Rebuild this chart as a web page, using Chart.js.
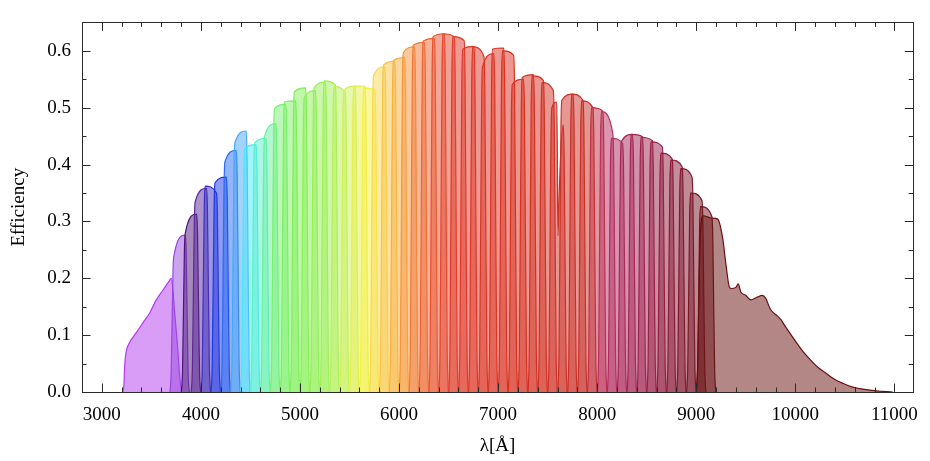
<!DOCTYPE html>
<html>
<head>
<meta charset="utf-8">
<script src="https://cdn.jsdelivr.net/npm/chart.js@4"></script>
<style>
html, body { margin: 0; padding: 0; background: #fff; }
#wrap { width: 930px; height: 461px; }
</style>
</head>
<body>
<div id="wrap"><canvas id="filterChart" width="930" height="461"></canvas></div>
<script>
// axis ticks
const xTickValues = [3000, 4000, 5000, 6000, 7000, 8000, 9000, 10000, 11000];
const yTickValues = [0, 0.1, 0.2, 0.3, 0.4, 0.5, 0.6];

// narrow band filters: name, central wavelength, efficiency at blue / red side of the top
const filterNames = ['J0378','J0390','J0400','J0410','J0420','J0430','J0440','J0450','J0460','J0470',
  'J0480','J0490','J0500','J0510','J0520','J0530','J0540','J0550','J0560','J0570',
  'J0580','J0590','J0600','J0610','J0620','J0630','J0640','J0650','J0660','J0670',
  'J0680','J0690','J0700','J0710','J0720','J0730','J0740','J0750','J0760','J0770',
  'J0780','J0790','J0800','J0810','J0820','J0830','J0840','J0850','J0860','J0870',
  'J0880','J0890','J0900','J0910'];
const filterCenters = [3785, 3900, 4000, 4100, 4200, 4300, 4400, 4500, 4600, 4700,
  4800, 4900, 5000, 5100, 5200, 5300, 5400, 5500, 5600, 5700,
  5800, 5900, 6000, 6100, 6200, 6300, 6400, 6500, 6600, 6700,
  6800, 6900, 7000, 7100, 7200, 7300, 7400, 7500, 7600, 7700,
  7800, 7900, 8000, 8100, 8200, 8300, 8400, 8500, 8600, 8700,
  8800, 8900, 9000, 9100];
const topBlue = [0.240, 0.280, 0.335, 0.362, 0.368, 0.405, 0.438, 0.428, 0.438, 0.450,
  0.498, 0.510, 0.528, 0.518, 0.535, 0.547, 0.537, 0.530, 0.538, 0.535,
  0.556, 0.575, 0.583, 0.597, 0.610, 0.617, 0.625, 0.630, 0.625, 0.603,
  0.607, 0.572, 0.603, 0.600, 0.541, 0.553, 0.556, 0.544, 0.500, 0.513,
  0.524, 0.512, 0.500, 0.493, 0.446, 0.440, 0.453, 0.448, 0.440, 0.420,
  0.408, 0.393, 0.350, 0.326];
const topRed = [0.276, 0.313, 0.358, 0.350, 0.378, 0.425, 0.459, 0.435, 0.446, 0.472,
  0.506, 0.512, 0.535, 0.530, 0.545, 0.540, 0.527, 0.538, 0.538, 0.530,
  0.572, 0.582, 0.588, 0.607, 0.615, 0.622, 0.630, 0.625, 0.618, 0.608,
  0.590, 0.595, 0.605, 0.592, 0.550, 0.558, 0.548, 0.530, 0.470, 0.524,
  0.513, 0.500, 0.494, 0.455, 0.437, 0.453, 0.449, 0.442, 0.431, 0.410,
  0.396, 0.378, 0.337, 0.309];

// common passband edge: offset from centre [A] and fraction of the top
const edgeOffsets = [-97, -86, -76, -66, -57];
const edgeLevels = [0, 0.12, 0.5, 0.9, 1];

// telluric A-band absorption inside J0760
const j0760Dip = [[7592, 0.51], [7598, 0.42], [7604, 0.275], [7615, 0.34], [7632, 0.42]];

// broad filters
const uJavaProfile = [[3210, 0], [3222, 0.01], [3232, 0.05], [3245, 0.07], [3283, 0.088], [3350, 0.105],
  [3416, 0.122], [3483, 0.139], [3550, 0.162], [3616, 0.179], [3683, 0.196], [3700, 0.2],
  [3715, 0.185], [3733, 0.145], [3766, 0.077], [3790, 0.02], [3805, 0]];
const j1007Profile = [[9000, 0], [9015, 0.05], [9030, 0.2], [9045, 0.29], [9070, 0.31], [9150, 0.306],
  [9217, 0.304], [9267, 0.27], [9300, 0.224], [9333, 0.185], [9350, 0.182],
  [9400, 0.184], [9423, 0.19], [9450, 0.176], [9500, 0.17], [9550, 0.162], [9617, 0.167],
  [9667, 0.17], [9700, 0.165], [9750, 0.145], [9817, 0.134], [9850, 0.128], [9900, 0.115],
  [9983, 0.094], [10060, 0.075], [10150, 0.057], [10230, 0.043], [10317, 0.032], [10400, 0.022],
  [10483, 0.015], [10570, 0.009], [10650, 0.006], [10817, 0.002], [10983, 0]];

// colour map along wavelength
const colourStops = [
  [3785, '#9848e0'], [3900, '#4c1678'], [4000, '#5a2898'], [4100, '#3a30c8'], [4200, '#1a38e8'],
  [4300, '#2a6cf0'], [4400, '#48a8f8'], [4500, '#48e8f8'], [4600, '#58f0c8'], [4700, '#68f0a0'],
  [4800, '#78f070'], [5000, '#80f058'], [5300, '#a0f058'], [5500, '#d0f058'], [5700, '#f8f040'],
  [5800, '#f8d850'], [6000, '#f8b040'], [6200, '#f07838'], [6400, '#e85030'], [6600, '#e03828'],
  [7200, '#d83020'], [7900, '#c83028'], [8100, '#b83060'], [8300, '#a82858'], [8600, '#982048'],
  [8900, '#801830'], [9100, '#701820']
];

function hexToRgb(h) {
  return [parseInt(h.slice(1, 3), 16), parseInt(h.slice(3, 5), 16), parseInt(h.slice(5, 7), 16)];
}
function colourAt(w) {
  for (let i = 0; i < colourStops.length - 1; i++) {
    const [w0, c0] = colourStops[i];
    const [w1, c1] = colourStops[i + 1];
    if (w <= w1) {
      const t = Math.max(0, (w - w0) / (w1 - w0));
      const a = hexToRgb(c0), b = hexToRgb(c1);
      return a.map((v, k) => Math.round(v + (b[k] - v) * t));
    }
  }
  return hexToRgb(colourStops[colourStops.length - 1][1]);
}

function passband(i) {
  const c = filterCenters[i];
  const pts = [];
  edgeOffsets.forEach((o, k) => pts.push({x: c + o, y: topBlue[i] * edgeLevels[k]}));
  if (filterNames[i] === 'J0760') j0760Dip.forEach(p => pts.push({x: p[0], y: p[1]}));
  for (let k = edgeOffsets.length - 1; k >= 0; k--) {
    pts.push({x: c - edgeOffsets[k], y: topRed[i] * edgeLevels[k]});
  }
  return pts;
}

function makeDataset(label, pts, rgb) {
  return {
    label: label,
    data: pts,
    borderColor: `rgb(${rgb.join(',')})`,
    backgroundColor: `rgba(${rgb.join(',')},0.5)`,
    borderWidth: 1.2,
    fill: 'origin',
    pointRadius: 0,
    cubicInterpolationMode: 'monotone'
  };
}

const datasets = [];
datasets.push(makeDataset('uJAVA', uJavaProfile.map(p => ({x: p[0], y: p[1]})), [180, 60, 240]));
filterNames.forEach((name, i) => {
  datasets.push(makeDataset(name, passband(i), colourAt(filterCenters[i])));
});
datasets.push(makeDataset('J1007', j1007Profile.map(p => ({x: p[0], y: p[1]})), [106, 16, 16]));
// later filters on top
datasets.forEach((d, i) => { d.order = -i; });

const frameTicks = {
  id: 'frameTicks',
  afterDatasetsDraw(chart) {
    const {ctx, chartArea: a, scales: {x, y}} = chart;
    ctx.save();
    ctx.strokeStyle = '#2a2a2a';
    ctx.lineWidth = 1;
    ctx.beginPath();
    for (let v = 3000; v <= 11000; v += 200) {
      const px = Math.round(x.getPixelForValue(v)) + 0.5;
      const len = xTickValues.includes(v) ? 8.5 : 4.5;
      ctx.moveTo(px, a.bottom); ctx.lineTo(px, a.bottom - len);
      ctx.moveTo(px, a.top); ctx.lineTo(px, a.top + len);
    }
    for (let i = 1; i <= 12; i++) {
      const py = Math.round(y.getPixelForValue(i * 0.05)) + 0.5;
      const len = i % 2 === 0 ? 8.5 : 4.5;
      ctx.moveTo(a.left, py); ctx.lineTo(a.left + len, py);
      ctx.moveTo(a.right, py); ctx.lineTo(a.right - len, py);
    }
    ctx.stroke();
    ctx.strokeRect(Math.round(a.left) + 0.5, Math.round(a.top) + 0.5,
      Math.round(a.right) - Math.round(a.left), Math.round(a.bottom) - Math.round(a.top));
    ctx.restore();
  }
};

const font = {family: "'Liberation Serif', 'DejaVu Serif', serif", size: 19};
const canvas = document.getElementById('filterChart');
const ctx = canvas.getContext('2d');

new Chart(ctx, {
  type: 'line',
  data: {datasets: datasets},
  options: {
    responsive: false,
    animation: false,
    layout: {padding: {top: 9, right: 9, left: 0, bottom: 0}},
    plugins: {
      legend: {display: false},
      tooltip: {enabled: false}
    },
    scales: {
      x: {
        type: 'linear',
        min: 2800,
        max: 11190,
        afterBuildTicks: s => { s.ticks = xTickValues.map(v => ({value: v})); },
        afterFit: s => { s.height = 69; },
        grid: {display: false, drawTicks: false},
        border: {display: false},
        ticks: {font: font, color: '#000', padding: 12, maxRotation: 0, autoSkip: false,
          callback: v => String(v)},
        title: {display: true, text: 'λ[Å]', font: font, color: '#000', padding: 4}
      },
      y: {
        min: 0,
        max: 0.65,
        afterBuildTicks: s => { s.ticks = yTickValues.map(v => ({value: v})); },
        afterFit: s => { s.width = 82; },
        grid: {display: false, drawTicks: false},
        border: {display: false},
        ticks: {font: font, color: '#000', padding: 11, callback: v => v.toFixed(1)},
        title: {display: true, text: 'Efficiency', font: font, color: '#000', padding: 8}
      }
    }
  },
  plugins: [frameTicks]
});
</script>
</body>
</html>
